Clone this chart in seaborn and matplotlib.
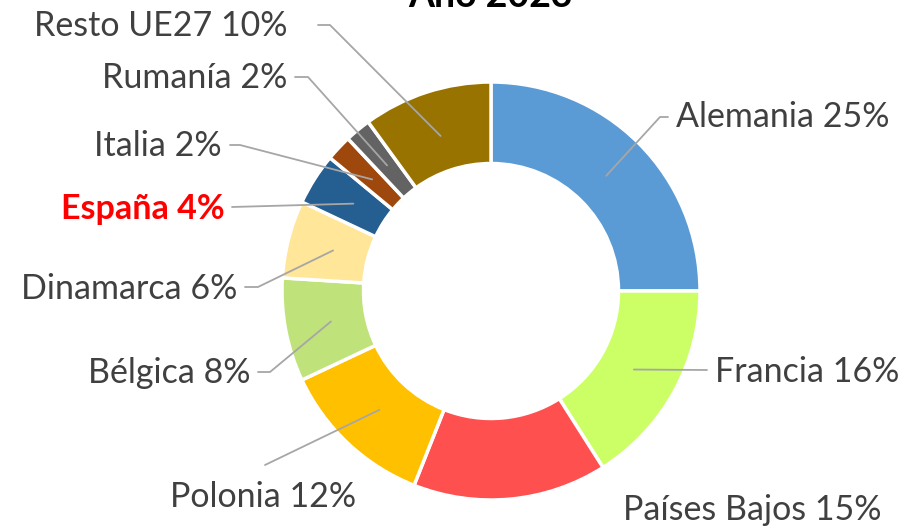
import numpy as np
import seaborn as sns
import matplotlib

matplotlib.use("Agg")
import matplotlib.pyplot as plt

# datos
paises = ["Alemania", "Francia", "Países Bajos", "Polonia", "Bélgica",
          "Dinamarca", "España", "Italia", "Rumanía", "Resto UE27"]
porcentajes = [25, 16, 15, 12, 8, 6, 4, 2, 2, 10]
colores = ["#5B9BD5", "#CCFF66", "#FF5050", "#FFC000", "#C0E27A",
           "#FFE699", "#255E91", "#9E480E", "#636363", "#997300"]
titulo = "Año 2023"

sns.set_theme(style="white")
plt.rcParams["font.family"] = ["Lato", "DejaVu Sans"]

W, H = 909, 526
fig = plt.figure(figsize=(W / 100, H / 100), dpi=100)
ax = fig.add_axes([0, 0, 1, 1])

cx, cy, R = 491, H - 291, 209
wedges, _ = ax.pie(porcentajes, colors=colores, startangle=90, counterclock=False,
                   radius=R, center=(cx, cy),
                   wedgeprops=dict(width=R * 0.39, edgecolor="white", linewidth=2.5))
ax.set_xlim(0, W)
ax.set_ylim(0, H)
ax.set_aspect("equal")
ax.axis("off")

# posiciones de etiquetas (pixeles de imagen): x texto, y texto, alineacion, codo de linea
etiquetas = {
    "Alemania": (676, 117, "left", [(660, 117), (668, 117)]),
    "Francia": (715, 372, "left", [(707, 370)]),
    "Países Bajos": (623, 510, "left", None),
    "Polonia": (263, 497, "center", [(265, 465)]),
    "Bélgica": (250, 373, "right", [(270, 372), (258, 372)]),
    "Dinamarca": (237, 289, "right", [(258, 287), (245, 287)]),
    "España": (225, 209, "right", [(232, 207)]),
    "Italia": (222, 146, "right", [(240, 145), (230, 145)]),
    "Rumanía": (287, 78, "right", [(308, 77), (295, 77)]),
    "Resto UE27": (287, 26, "right", [(330, 25), (318, 25)]),
}

for w, pais, pct in zip(wedges, paises, porcentajes):
    tx, ty, ha, codo = etiquetas[pais]
    ang = np.deg2rad((w.theta1 + w.theta2) / 2)
    r0 = R * 0.78
    x0, y0 = cx + r0 * np.cos(ang), cy + r0 * np.sin(ang)
    if codo:
        xs = [x0] + [p[0] for p in codo]
        ys = [y0] + [H - p[1] for p in codo]
        ax.plot(xs, ys, color="#A6A6A6", lw=1.3, zorder=3)
    es = pais == "España"
    ax.text(tx, H - ty, f"{pais} {pct}%", ha=ha, va="center",
            fontsize=24.5, color="#FF0000" if es else "#404040",
            fontweight="bold" if es else "normal")

ax.text(cx, H + 4, titulo, ha="center", va="center", fontsize=27,
        fontweight="bold", color="#000000")

fig.savefig("out.png", dpi=100)
